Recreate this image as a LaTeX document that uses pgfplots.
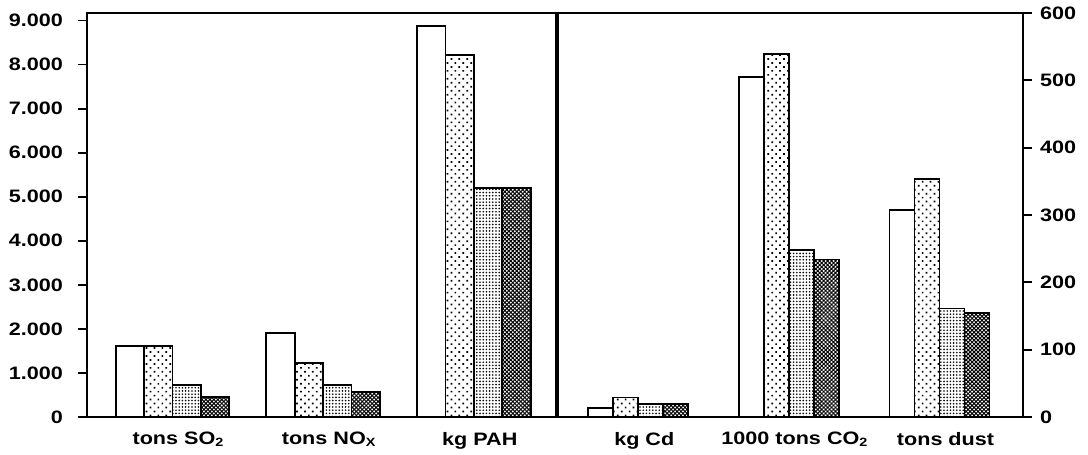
\documentclass[border=0pt]{standalone}
\usepackage{fontspec}
\setmainfont[FakeStretch=1.2]{Liberation Sans}
\usepackage{pgfplots}
\usepackage{pgfplotstable}
\pgfplotsset{compat=1.18}
\usetikzlibrary{patterns.meta}

\pgfplotstableread{
g a b c d
0 1619 1612 727 461
1 1900 1220 727 575
2 8870 8220 5195 5195
}\lefttable

\pgfplotstableread{
g a b c d
0 13 29 19 19
1 505 539 248 234
2 308 353 161 154
}\righttable

\pgfplotsset{
  common/.style={
    scale only axis, height=202pt,
    ybar=0pt,
    ymin=0,
    xtick={0,1,2},
    xtick style={draw=none},
    tick align=outside,
    major tick length=4.5pt,
    axis line style={line width=1pt},
    ytick style={line width=0.9pt, black},
    scaled y ticks=false,
    /pgf/number format/assume math mode=true,
    /pgf/number format/1000 sep={.},
    tick label style={font=\fontsize{9}{10}\selectfont\bfseries},
    xticklabel style={yshift=0.5pt, xshift=3pt},
    every axis plot/.append style={draw=black, line width=0.9pt},
  },
  s1/.style={fill=white},
  s2/.style={pattern={Dots[distance=2.8pt, angle=45, radius=0.6pt]}},
  s3/.style={pattern={Dots[distance=1.6pt, radius=0.45pt]}},
  s4/.style={pattern={Hatch[distance=1.4pt, angle=45, line width=0.5pt]}},
}

\begin{document}
\begin{tikzpicture}
\useasboundingbox (0,0) rectangle (544pt,227.5pt);
\begin{axis}[
  common,
  at={(43.5pt,19pt)}, anchor=south west,
  width=234.5pt,
  bar width=14.2pt,
  xmin=-0.5675, xmax=2.5456,
  ymax=9170,
  ytick={0,1000,...,9000},
  ytick pos=left,
  yticklabel style={xshift=-4pt},
  xticklabels={tons SO\textsubscript{2}, tons NO\textsubscript{X}, kg PAH},
]
\addplot[s1] table[x=g,y=a]{\lefttable};
\addplot[s2] table[x=g,y=b]{\lefttable};
\addplot[s3] table[x=g,y=c]{\lefttable};
\addplot[s4] table[x=g,y=d]{\lefttable};
\end{axis}
\begin{axis}[
  common,
  at={(279pt,19pt)}, anchor=south west,
  width=232.5pt,
  bar width=12.5pt,
  xmin=-0.5332, xmax=2.5544,
  ymax=600,
  ytick={0,100,...,600},
  ytick pos=right,
  yticklabel pos=right,
  yticklabel style={xshift=0.5pt},
  xticklabels={kg Cd, 1000 tons CO\textsubscript{2}, tons dust},
]
\addplot[s1] table[x=g,y=a]{\righttable};
\addplot[s2] table[x=g,y=b]{\righttable};
\addplot[s3] table[x=g,y=c]{\righttable};
\addplot[s4] table[x=g,y=d]{\righttable};
\end{axis}
\end{tikzpicture}
\end{document}
